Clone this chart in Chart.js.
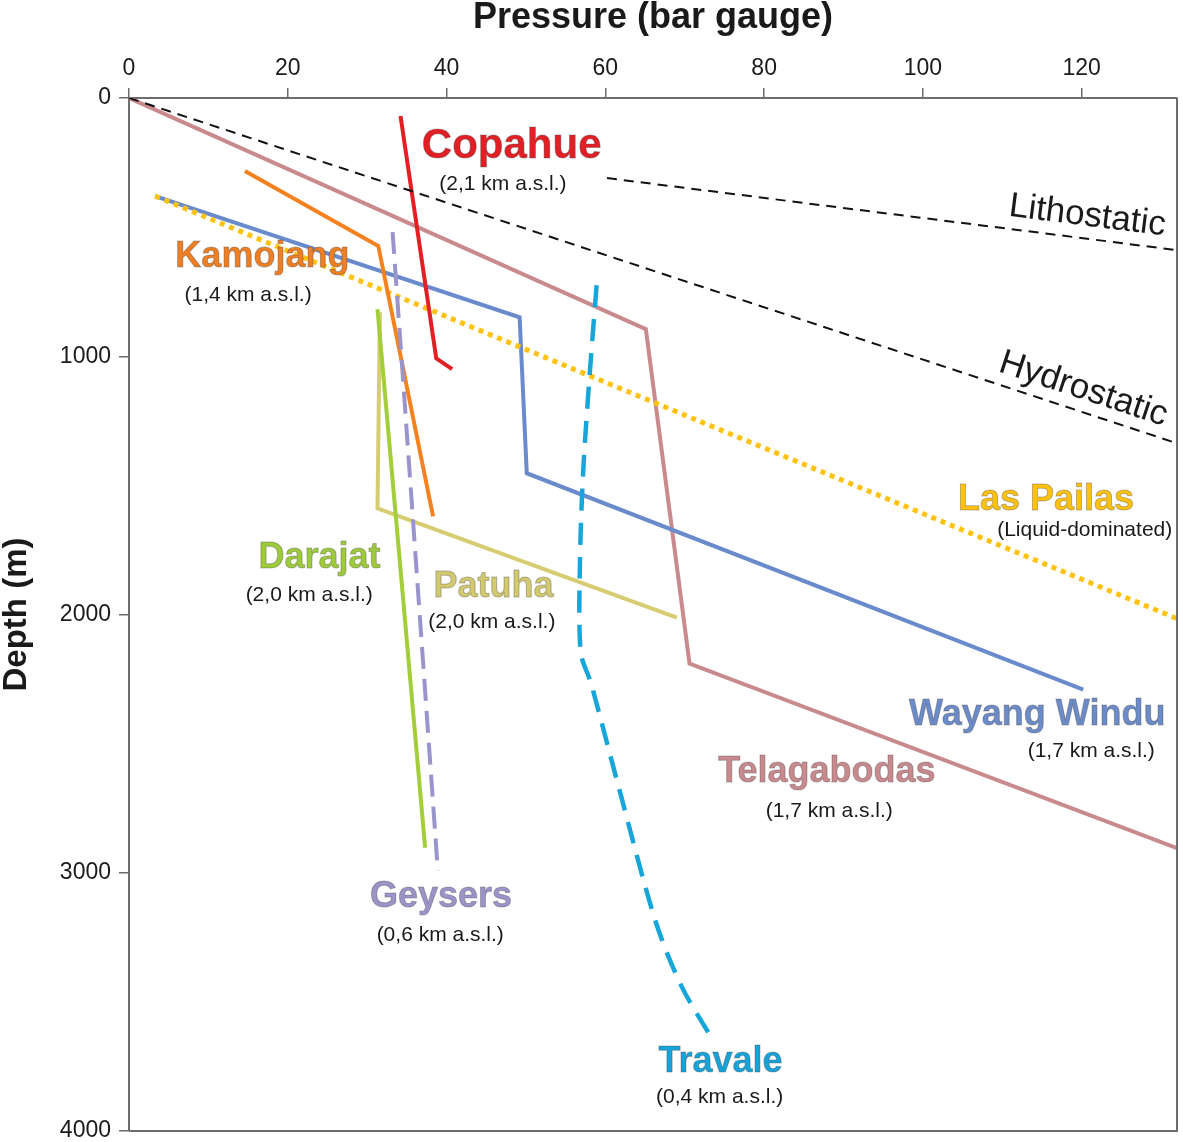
<!DOCTYPE html>
<html>
<head>
<meta charset="utf-8">
<script src="https://cdn.jsdelivr.net/npm/chart.js@4.4.1/dist/chart.umd.min.js"></script>
<style>
  body { margin: 0; background: #fff; }
  #wrap { width: 1183px; height: 1142px; }
</style>
</head>
<body>
<div id="wrap"><canvas id="chart" width="1183" height="1142"></canvas></div>
<script>
// pressure (bar gauge) and depth (m)
const hydroP = [0, 132];
const hydroD = [0, 1337];
const lithoP = [60.2, 132];
const lithoD = [310, 589];

const copahueP = [34.2, 38.7, 40.7];
const copahueD = [70, 1008, 1050];

const kamojangP = [14.6, 31.4, 38.3];
const kamojangD = [283, 573, 1620];

const wayangP = [3.3, 49.2, 50.1, 120.2];
const wayangD = [380, 849, 1453, 2291];

const telagaP = [0, 65.1, 70.6, 132];
const telagaD = [0, 895, 2190, 2905];

const pailasP = [3.3, 132];
const pailasD = [380, 2016];

const darajatP = [31.3, 37.3];
const darajatD = [818, 2903];

const patuhaP = [31.6, 31.3, 69.0];
const patuhaD = [830, 1589, 2012];

const geysersP = [33.2, 38.9];
const geysersD = [519, 2992];

const travaleP = [58.9, 58.0, 57.2, 56.8, 56.9, 58.2, 61.7, 66.3, 69.6, 73.6];
const travaleD = [725, 1081, 1450, 1800, 2147, 2267, 2671, 3186, 3440, 3651];

// axis ticks
const pressureTicks = [0, 20, 40, 60, 80, 100, 120];
const depthTicks = [0, 1000, 2000, 3000, 4000];

const FONT = '"Liberation Sans", Arial, Helvetica, sans-serif';
const AXIS = '#6d6d6d';
const INK = '#1a1a1a';

function pts(p, d) {
  return p.map((v, i) => ({ x: v, y: d[i] }));
}

function series(label, p, d, color, extra) {
  return Object.assign({
    label: label,
    data: pts(p, d),
    borderColor: color,
    borderWidth: 4,
    pointRadius: 0,
    showLine: true,
    fill: false,
    tension: 0
  }, extra || {});
}

// site names and their elevation notes, placed in data units
const siteLabels = [
  { text: 'Copahue', p: 48.2, d: 186, color: '#e31f26', size: 42 },
  { text: 'Kamojang', p: 16.8, d: 616, color: '#f07e22', size: 36 },
  { text: 'Las Pailas', p: 115.5, d: 1558, color: '#ffc20e', size: 36 },
  { text: 'Darajat', p: 24.0, d: 1783, color: '#9dcb3b', size: 36 },
  { text: 'Patuha', p: 45.9, d: 1895, color: '#d3c96e', size: 36 },
  { text: 'Wayang Windu', p: 114.4, d: 2388, color: '#6b8bc9', size: 36 },
  { text: 'Telagabodas', p: 87.9, d: 2612, color: '#c98a8e', size: 36 },
  { text: 'Geysers', p: 39.3, d: 3093, color: '#9a94c9', size: 36 },
  { text: 'Travale', p: 74.5, d: 3733, color: '#17a3d8', size: 36 }
];
const noteLabels = [
  { text: '(2,1 km a.s.l.)', p: 47.1, d: 333 },
  { text: '(1,4 km a.s.l.)', p: 15.0, d: 764 },
  { text: '(Liquid-dominated)', p: 131.4, d: 1674, align: 'right' },
  { text: '(2,0 km a.s.l.)', p: 22.7, d: 1926 },
  { text: '(2,0 km a.s.l.)', p: 45.7, d: 2031 },
  { text: '(1,7 km a.s.l.)', p: 121.2, d: 2531 },
  { text: '(1,7 km a.s.l.)', p: 88.2, d: 2760 },
  { text: '(0,6 km a.s.l.)', p: 39.2, d: 3240 },
  { text: '(0,4 km a.s.l.)', p: 74.4, d: 3868 }
];
const gradientLabels = [
  { text: 'Lithostatic', p: 120.7, d: 457, along: 1 },
  { text: 'Hydrostatic', p: 120.2, d: 1128, along: 0 }
];

const labelPlugin = {
  id: 'siteLabels',
  afterDatasetsDraw(chart) {
    const ctx = chart.ctx;
    const xs = chart.scales.x, ys = chart.scales.y;
    ctx.save();
    ctx.textBaseline = 'middle';

    siteLabels.forEach(l => {
      const x = xs.getPixelForValue(l.p), y = ys.getPixelForValue(l.d);
      ctx.font = 'bold ' + l.size + 'px ' + FONT;
      ctx.textAlign = 'center';
      ctx.fillStyle = l.color;
      ctx.fillText(l.text, x, y);
      ctx.lineWidth = 1;
      ctx.strokeStyle = 'rgba(70,70,70,0.35)';
      ctx.strokeText(l.text, x, y);
    });

    ctx.font = '21px ' + FONT;
    ctx.fillStyle = INK;
    noteLabels.forEach(l => {
      ctx.textAlign = l.align || 'center';
      ctx.fillText(l.text, xs.getPixelForValue(l.p), ys.getPixelForValue(l.d));
    });

    // Lithostatic / Hydrostatic follow the slope of their lines
    ctx.font = '35px ' + FONT;
    ctx.textAlign = 'center';
    gradientLabels.forEach(l => {
      const pts = chart.getDatasetMeta(l.along).data;
      const a = pts[0], b = pts[pts.length - 1];
      const ang = Math.atan2(b.y - a.y, b.x - a.x);
      ctx.save();
      ctx.translate(xs.getPixelForValue(l.p), ys.getPixelForValue(l.d));
      ctx.rotate(ang);
      ctx.fillText(l.text, 0, 0);
      ctx.restore();
    });
    ctx.restore();
  },
  afterDraw(chart) {
    // right and bottom edges of the frame
    const { ctx, chartArea: c } = chart;
    ctx.save();
    ctx.strokeStyle = AXIS;
    ctx.lineWidth = 2;
    ctx.beginPath();
    ctx.moveTo(c.right, c.top);
    ctx.lineTo(c.right, c.bottom);
    ctx.lineTo(c.left, c.bottom);
    ctx.stroke();
    ctx.restore();
  }
};

new Chart(document.getElementById('chart'), {
  type: 'scatter',
  plugins: [labelPlugin],
  data: {
    datasets: [
      series('Hydrostatic', hydroP, hydroD, '#111', { borderWidth: 2, borderDash: [10, 7] }),
      series('Lithostatic', lithoP, lithoD, '#111', { borderWidth: 2, borderDash: [10, 7] }),
      series('Copahue', copahueP, copahueD, '#e31f26'),
      series('Geysers', geysersP, geysersD, '#9a94cc', { borderDash: [22, 10] }),
      series('Kamojang', kamojangP, kamojangD, '#f58220'),
      series('Darajat', darajatP, darajatD, '#a3cd3a'),
      series('Patuha', patuhaP, patuhaD, '#d6cd72'),
      series('Travale', travaleP, travaleD, '#17a6d9', { borderWidth: 4.5, borderDash: [22, 12], tension: 0.3 }),
      series('Las Pailas', pailasP, pailasD, '#ffc20e', { borderWidth: 5, borderDash: [5, 5] }),
      series('Wayang Windu', wayangP, wayangD, '#6a8bcb'),
      series('Telagabodas', telagaP, telagaD, '#c98a8e')
    ]
  },
  options: {
    responsive: false,
    devicePixelRatio: 1,
    animation: false,
    layout: { padding: { left: 0, top: 0, right: 6, bottom: 11 } },
    plugins: {
      legend: { display: false },
      tooltip: { enabled: false }
    },
    scales: {
      x: {
        type: 'linear',
        position: 'top',
        min: 0,
        max: 132,
        afterBuildTicks: s => { s.ticks = pressureTicks.map(v => ({ value: v })); },
        ticks: { padding: 6, color: INK, font: { family: FONT, size: 23 }, callback: v => String(v) },
        grid: { drawOnChartArea: false, tickLength: 10, color: AXIS, lineWidth: 1.5 },
        border: { color: AXIS, width: 2 },
        title: {
          display: true,
          text: 'Pressure (bar gauge)',
          color: INK,
          padding: 0,
          font: { family: FONT, size: 36, weight: 'bold', lineHeight: 1 }
        },
        afterFit: s => { s.height = 98; s.paddingLeft = 0; s.paddingRight = 0; }
      },
      y: {
        type: 'linear',
        reverse: true,
        min: 0,
        max: 4000,
        afterBuildTicks: s => { s.ticks = depthTicks.map(v => ({ value: v })); },
        ticks: { padding: 8, color: INK, font: { family: FONT, size: 23 }, callback: v => String(v) },
        grid: { drawOnChartArea: false, tickLength: 10, color: AXIS, lineWidth: 1.5 },
        border: { color: AXIS, width: 2 },
        title: {
          display: true,
          text: 'Depth (m)',
          color: INK,
          padding: 0,
          font: { family: FONT, size: 33, weight: 'bold', lineHeight: 1 }
        },
        afterFit: s => { s.width = 129; s.paddingTop = 0; s.paddingBottom = 0; }
      }
    }
  }
});
</script>
</body>
</html>
